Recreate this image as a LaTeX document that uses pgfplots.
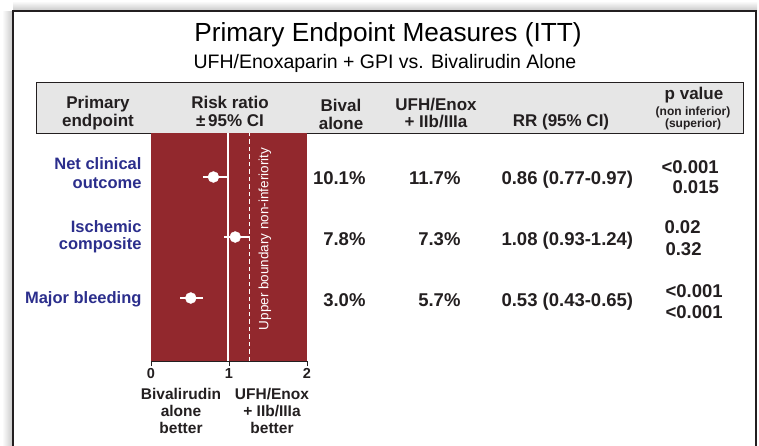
\documentclass[border=0pt]{standalone}
\usepackage{pgfplots}
\pgfplotsset{compat=1.18}
\usepackage{fontspec}
\setmainfont{Liberation Sans}
\definecolor{plotred}{RGB}{146,40,45}
\definecolor{lblue}{RGB}{43,46,140}
\definecolor{framec}{RGB}{35,31,32}
\definecolor{hdr}{RGB}{230,230,230}
\definecolor{txt}{RGB}{35,31,32}
\newcommand{\fs}[1]{\fontsize{#1}{#1}\selectfont}
\begin{document}
\begin{tikzpicture}
\begin{scope}[x=1pt,y=-1pt]
\path[use as bounding box] (0,0) rectangle (759,445);
\fill[white] (0,0) rectangle (759,445);
\shade[left color=white, right color=gray!40] (2,11) rectangle (12,445);
\shade[top color=white, bottom color=gray!40] (13,1) rectangle (757,10);
\draw[framec, line width=2.2pt] (13,446) -- (13,11) -- (756,11) -- (756,446);
% titles
\node[font=\fs{26.2}, text=black] at (388,35) {Primary Endpoint Measures (ITT)};
\node[font=\fs{19.5}, text=black] at (385,63) {UFH/Enoxaparin + GPI vs. Bivalirudin Alone};
% header box
\draw[fill=hdr, draw=framec, line width=0.8pt] (36,82) rectangle (743,133);
\begin{scope}[every node/.style={font=\bfseries\fs{17}, text=txt, anchor=base}]
\node at (98,108) {Primary};
\node at (98,126) {endpoint};
\node at (230,108) {Risk ratio};
\node at (230,126) {±\,95\% CI};
\node at (341,111) {Bival};
\node at (341,129) {alone};
\node at (436,110) {UFH/Enox};
\node at (436,127) {+ IIb/IIIa};
\node at (561,126) {RR (95\% CI)};
\node at (694,99) {p value};
\node[font=\bfseries\fs{12}] at (693,115) {(non inferior)};
\node[font=\bfseries\fs{12}] at (693,127) {(superior)};
\end{scope}
% row labels
\begin{scope}[every node/.style={font=\bfseries\fs{16.5}, text=lblue, anchor=base east}]
\node at (145,169) {Net clinical};
\node at (145,188) {outcome};
\node at (145,232) {Ischemic};
\node at (145,249) {composite};
\node at (145,303) {Major bleeding};
\end{scope}
% table values
\begin{scope}[every node/.style={font=\bfseries\fs{18.5}, text=txt, anchor=base east}]
\node at (369,184) {10.1\%};
\node at (369,245) {7.8\%};
\node at (369,306) {3.0\%};
\node at (464,184) {11.7\%};
\node at (464,245) {7.3\%};
\node at (464,306) {5.7\%};
\node[anchor=base west] at (498,184) {0.86 (0.77-0.97)};
\node[anchor=base west] at (498,245) {1.08 (0.93-1.24)};
\node[anchor=base west] at (498,306) {0.53 (0.43-0.65)};
\node[anchor=base west] at (658,173) {<0.001};
\node[anchor=base west] at (669,193) {0.015};
\node[anchor=base west] at (661,233) {0.02};
\node[anchor=base west] at (662,255) {0.32};
\node[anchor=base west] at (662,297) {<0.001};
\node[anchor=base west] at (662,318) {<0.001};
\end{scope}
% bottom labels
\begin{scope}[every node/.style={font=\bfseries\fs{15.5}, text=txt, anchor=base}]
\node at (181,399) {Bivalirudin};
\node at (181,416) {alone};
\node at (181,433) {better};
\node at (272,399) {UFH/Enox};
\node at (272,416) {+ IIb/IIIa};
\node at (272,433) {better};
\end{scope}
\end{scope}
\begin{axis}[
  at={(151pt,-361pt)}, anchor=south west,
  width=156pt, height=228pt, scale only axis,
  xmin=0, xmax=2, ymin=0, ymax=228,
  axis background/.style={fill=plotred},
  axis x line*=bottom, axis y line=none,
  x axis line style={draw=framec, line width=1pt, -},
  xtick={0,1,2}, tick align=outside, major tick length=5pt,
  tick style={draw=framec, line width=0.8pt},
  xticklabel style={font=\bfseries\fs{14.5}, text=txt, yshift=1pt},
  /pgf/number format/assume math mode=true,
  clip=false,
]
\addplot[white, line width=1.6pt] coordinates {(0.99,0) (0.99,228)};
\addplot[white, line width=1.3pt, dash pattern=on 4.5pt off 3pt] coordinates {(1.26,0) (1.26,228)};
\addplot[only marks, mark=*, mark size=5.5pt, white,
  error bars/.cd, x dir=both, x explicit,
  error bar style={line width=2.8pt, white}, error mark=none]
  coordinates {
  (0.80,184) += (0.17,0) -= (0.13,0)
  (1.08,124) += (0.19,0) -= (0.14,0)
  (0.51,63) += (0.16,0) -= (0.14,0)
  };
\node[rotate=90, font=\fs{13.5}, text=white] at (axis cs:1.46,122) {Upper boundary non-inferiority};
\end{axis}
\end{tikzpicture}
\end{document}
